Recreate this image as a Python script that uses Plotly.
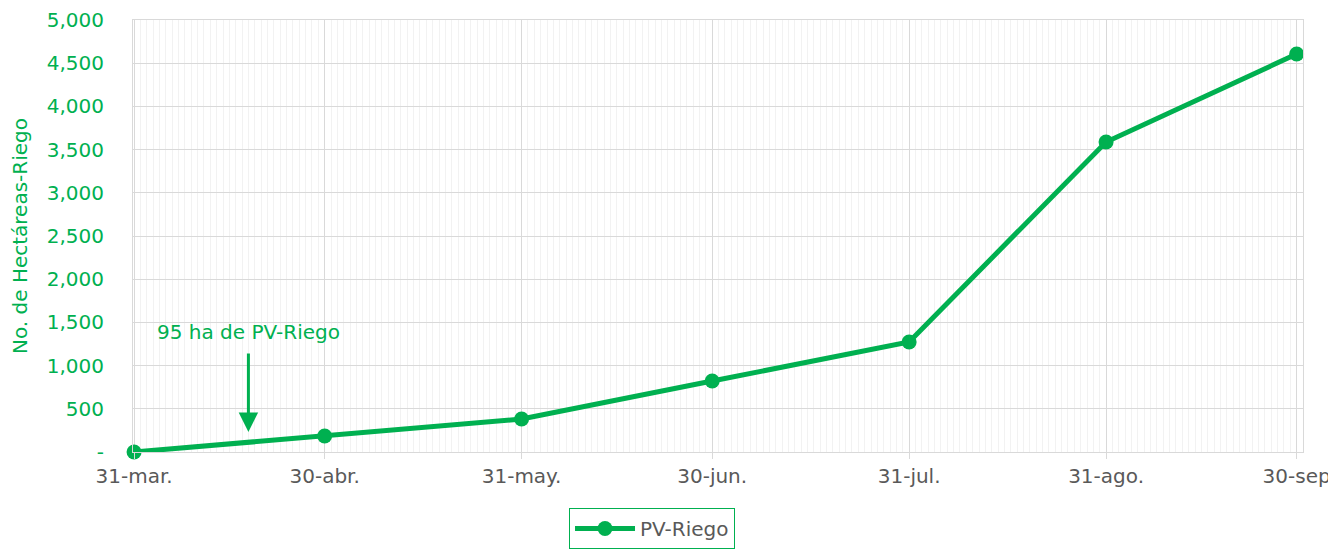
import plotly.graph_objects as go

dates = ["2023-03-31", "2023-04-30", "2023-05-31", "2023-06-30", "2023-07-31", "2023-08-31", "2023-09-30"]
date_labels = ["31-mar.", "30-abr.", "31-may.", "30-jun.", "31-jul.", "31-ago.", "30-sep"]
pv_riego = [0, 185, 382, 822, 1273, 3588, 4606]
y_ticks = [0, 500, 1000, 1500, 2000, 2500, 3000, 3500, 4000, 4500, 5000]
y_labels = ["-", "500", "1,000", "1,500", "2,000", "2,500", "3,000", "3,500", "4,000", "4,500", "5,000"]
note_text = "95 ha de PV-Riego"
note_date = "2023-04-18"

GREEN = "#00B050"
GRAY = "#595959"
FONT = "DejaVu Sans"

fig = go.Figure()
fig.add_trace(go.Scatter(
    x=dates, y=pv_riego, mode="lines+markers", name="PV-Riego",
    line=dict(color=GREEN, width=5),
    marker=dict(color=GREEN, size=15),
    cliponaxis=False,
))

fig.add_annotation(x=note_date, y=231, ax=0, ay=-80, text="", showarrow=True,
                   arrowhead=2, arrowsize=1.3, arrowwidth=3, arrowcolor=GREEN)
fig.add_annotation(x=note_date, y=1389, text=note_text, showarrow=False,
                   font=dict(color=GREEN, size=20, family=FONT))

# page body has an 8px default margin, so the figure is offset by 8px
fig.update_layout(
    width=1328, height=541,
    margin=dict(l=125, r=33, t=12, b=97, autoexpand=False),
    paper_bgcolor="white", plot_bgcolor="white",
    font=dict(family=FONT, size=20, color=GRAY),
    showlegend=True,
    legend=dict(orientation="h", x=0.4436, xanchor="center", y=-0.1296, yanchor="top",
                itemwidth=60,
                bordercolor=GREEN, borderwidth=1, font=dict(color=GRAY, size=20)),
)
fig.update_xaxes(
    type="date", automargin=False,
    range=["2023-03-30 20:00", "2023-10-01 00:00"],
    tickvals=dates, ticktext=date_labels,
    showgrid=True, gridcolor="#D9D9D9", gridwidth=1,
    minor=dict(dtick=86400000, showgrid=True, gridcolor="#F2F2F2", gridwidth=1),
    ticks="outside", ticklen=6, tickcolor="#D9D9D9",
    showline=True, linecolor="#D9D9D9", mirror=True,
    tickfont=dict(color=GRAY, size=20), zeroline=False,
)
fig.update_yaxes(
    range=[0, 5000], tickvals=y_ticks, ticktext=y_labels, automargin=False,
    showgrid=True, gridcolor="#D9D9D9", gridwidth=1,
    showline=True, linecolor="#D9D9D9", mirror=True,
    ticks="", ticklabelstandoff=24,
    tickfont=dict(color=GREEN, size=20), zeroline=False,
    title=dict(text="No. de Hectáreas-Riego", font=dict(color=GREEN, size=20), standoff=14),
)

fig.write_html("out.html")
